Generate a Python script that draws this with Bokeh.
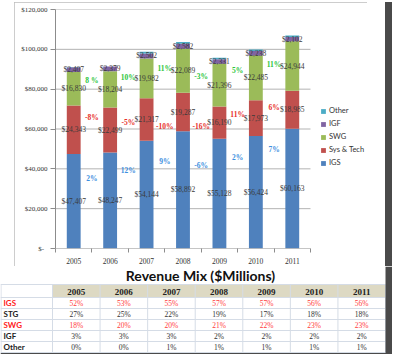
from bokeh.plotting import figure
from bokeh.models import (ColumnDataSource, Range1d, FixedTicker,
                          Legend, LegendItem, Spacer)
from bokeh.layouts import column, row
from bokeh.core.properties import value
from bokeh.embed import file_html
from bokeh.resources import INLINE

# ---------------- data ----------------
years = ["2005", "2006", "2007", "2008", "2009", "2010", "2011"]
igs = [47407, 48247, 54144, 58892, 55128, 56424, 60163]
sys_tech = [24343, 22499, 21317, 19287, 16190, 17973, 18985]
swg = [16830, 18204, 19982, 22089, 21396, 22485, 24944]
igf = [2407, 2379, 2502, 2582, 2331, 2238, 2102]
other = [147, 95, 841, 780, 713, 750, 722]

series_names = ["IGS", "Sys & Tech", "SWG", "IGF", "Other"]
series_colors = ["#4F81BD", "#C0504D", "#9BBB59", "#8064A2", "#4BACC6"]

igs_growth = ["2%", "12%", "9%", "-6%", "2%", "7%"]
st_growth = ["-8%", "-5%", "-10%", "-16%", "11%", "6%"]
swg_growth = ["8 %", "10%", "11%", "-3%", "5%", "11%"]
# anchor heights (in $M) of the growth call-outs
igs_growth_y = [34900, 39300, 43800, 41800, 45800, 49800]
st_growth_y = [65700, 63200, 61200, 61200, 67200, 70700]
swg_growth_y = [84600, 86100, 90600, 86600, 89600, 92600]

y_tick_values = [0, 20000, 40000, 60000, 80000, 100000, 120000]
y_tick_labels = ["$-" + "\u00a0" * 2, "$20,000", "$40,000", "$60,000",
                 "$80,000", "$100,000", "$120,000"]

mix_title = "Revenue Mix ($Millions)"
mix_rows = ["IGS", "STG", "SWG", "IGF", "Other"]
mix_igs = [52, 53, 55, 57, 57, 56, 56]
mix_stg = [27, 25, 22, 19, 17, 18, 18]
mix_swg = [18, 20, 20, 21, 22, 23, 23]
mix_igf = [3, 3, 3, 2, 2, 2, 2]
mix_other = [0, 0, 1, 1, 1, 1, 1]

SERIF = value("Liberation Serif")
SANS = value("Lato")

W = 392
CH = 264
n = len(years)
xpos = list(range(n))

# ---------------- chart ----------------
src = ColumnDataSource(dict(x=xpos, IGS=igs, ST=sys_tech, SWG=swg,
                            IGF=igf, OTH=other))

# plot area holds 7 categories; extra room on the right carries the legend
p = figure(x_range=Range1d(-0.5, n + 1.01), y_range=Range1d(0, 120000),
           width=353, height=CH, output_backend="svg", toolbar_location=None,
           min_border_left=41, min_border_right=2, min_border_top=7,
           min_border_bottom=16,
           styles={"outline": "1px solid #BDBDBD", "outline-offset": "-1px"})
p.outline_line_color = None

# horizontal gridlines limited to the category area
grid_ticks = y_tick_values[1:]
p.segment(x0=[-0.5] * len(grid_ticks), x1=[n - 0.5] * len(grid_ticks),
          y0=grid_ticks, y1=grid_ticks, line_color="#B3B3B3", line_width=1)

rs = p.vbar_stack(["IGS", "ST", "SWG", "IGF", "OTH"], x="x", width=0.38,
                  color=series_colors, line_color=None, source=src)

# category axis line
p.segment(x0=[-0.5], x1=[n - 0.5], y0=[0], y1=[0], line_color="#8C8C8C",
          line_width=1)

# value labels in segment centres
lx, ly, lt = [], [], []
for i in xpos:
    base = 0
    for vals in (igs, sys_tech, swg, igf):
        v = vals[i]
        lx.append(i)
        ly.append(base + v / 2)
        lt.append("${:,}".format(v))
        base += v
p.text(x="x", y="y", text="t", source=ColumnDataSource(dict(x=lx, y=ly, t=lt)),
       text_font=SERIF, text_font_size="7.5px", text_align="center",
       text_baseline="middle", text_color="#3a3a3a")

# growth call-outs between bars
for labels, ys, col in ((igs_growth, igs_growth_y, "#3D8FE0"),
                        (st_growth, st_growth_y, "#E8302A"),
                        (swg_growth, swg_growth_y, "#2CC63C")):
    gs = ColumnDataSource(dict(x=[i - 0.5 for i in xpos[1:]], y=ys, t=labels))
    p.text(x="x", y="y", text="t", source=gs,
           text_font=SERIF, text_font_size="7.5px", text_font_style="bold",
           text_align="center", text_baseline="middle", text_color=col)

p.yaxis.ticker = FixedTicker(ticks=y_tick_values)
p.yaxis.major_label_overrides = {v: l for v, l in zip(y_tick_values, y_tick_labels)}
p.yaxis.axis_line_color = "#8C8C8C"
p.yaxis.major_tick_line_color = "#8C8C8C"
p.yaxis.major_tick_out = 5
p.yaxis.major_tick_in = 0
p.yaxis.minor_tick_line_color = None
p.yaxis.major_label_standoff = 3
p.yaxis.major_label_text_font_size = "7px"

p.xaxis.ticker = FixedTicker(ticks=xpos,
                             minor_ticks=[i - 0.5 for i in range(n + 1)])
p.xaxis.major_label_overrides = {i: y for i, y in zip(xpos, years)}
p.xaxis.axis_line_color = None
p.xaxis.major_tick_line_color = None
p.xaxis.major_tick_out = 0
p.xaxis.minor_tick_line_color = "#8C8C8C"
p.xaxis.minor_tick_out = 4
p.xaxis.minor_tick_in = 0
p.xaxis.major_label_standoff = 5
p.xaxis.major_label_text_font_size = "7.5px"
p.axis.major_label_text_font = "Liberation Serif"
p.axis.major_label_text_color = "#333333"
p.grid.visible = False

items = [LegendItem(label=nm, renderers=[r]) for nm, r in zip(series_names, rs)]
legend = Legend(items=items[::-1], location=(265, 81), padding=2,
                glyph_width=6, glyph_height=6, label_height=9,
                spacing=4, label_standoff=3, label_text_font="Lato",
                label_text_font_size="7.5px", label_text_color="#333333",
                background_fill_alpha=0, border_line_color=None)
p.add_layout(legend)

# ---------------- table ----------------
TH = 88
t = figure(width=W, height=TH, x_range=Range1d(0, W), y_range=Range1d(TH, 0),
           output_backend="svg", toolbar_location=None, min_border=0,
           x_axis_location=None, y_axis_location=None)
t.outline_line_color = None
t.grid.visible = False

col0 = 52
right_edge = 385
cw = (right_edge - col0) / n
head_top, head_bot = 18, 31
rh = 11

t.text(x=[200], y=[9], text=[mix_title], text_font=SANS, text_font_size="14px",
       text_font_style="bold", text_align="center", text_baseline="middle",
       text_color="#111111")
t.quad(left=[col0], right=[right_edge], top=[head_top], bottom=[head_bot],
       fill_color="#DDD9C3", line_color=None)
hy = [head_top] + [head_bot + rh * k for k in range(len(mix_rows) + 1)]
t.segment(x0=[0] * len(hy), x1=[right_edge] * len(hy), y0=hy, y1=hy,
          line_color="#D5DCE6", line_width=1)
vx = [0.5] + [col0 + cw * k for k in range(n + 1)]
t.segment(x0=vx, x1=vx, y0=[head_top] * len(vx), y1=[hy[-1]] * len(vx),
          line_color="#D5DCE6", line_width=1)

cx = [col0 + cw * (k + 0.5) for k in range(n)]
t.text(x=cx, y=[(head_top + head_bot) / 2 + 0.5] * n, text=years,
       text_font=SERIF, text_font_size="9px", text_font_style="bold",
       text_align="center", text_baseline="middle", text_color="#222222")

row_vals = [mix_igs, mix_stg, mix_swg, mix_igf, mix_other]
row_cols = ["#FF2020", "#222222", "#FF2020", "#222222", "#222222"]
val_cols = ["#FF3C3C", "#333333", "#FF3C3C", "#333333", "#333333"]
for k, (name, vals) in enumerate(zip(mix_rows, row_vals)):
    yc = head_bot + rh * (k + 0.5)
    t.text(x=[3], y=[yc], text=[name], text_font=SANS, text_font_size="8px",
           text_font_style="bold", text_align="left", text_baseline="middle",
           text_color=row_cols[k])
    t.text(x=cx, y=[yc] * n, text=["{}%".format(v) for v in vals],
           text_font=SERIF, text_font_size="7.5px", text_align="center",
           text_baseline="middle", text_color=val_cols[k])

# window shadow edges
t.quad(left=[0], right=[W], top=[hy[-1] + 0.5], bottom=[TH],
       fill_color="#4A4A4A", line_color=None)
t.quad(left=[W - 7], right=[W], top=[0], bottom=[TH],
       fill_color="#4A4A4A", line_color=None)

top_row = row(Spacer(width=14, height=CH), p, Spacer(width=18, height=CH),
              Spacer(width=7, height=CH, styles={"background-color": "#4A4A4A"}))
layout = column(Spacer(width=W, height=2), top_row, t)

open("out.html", "w").write(file_html(layout, INLINE))
